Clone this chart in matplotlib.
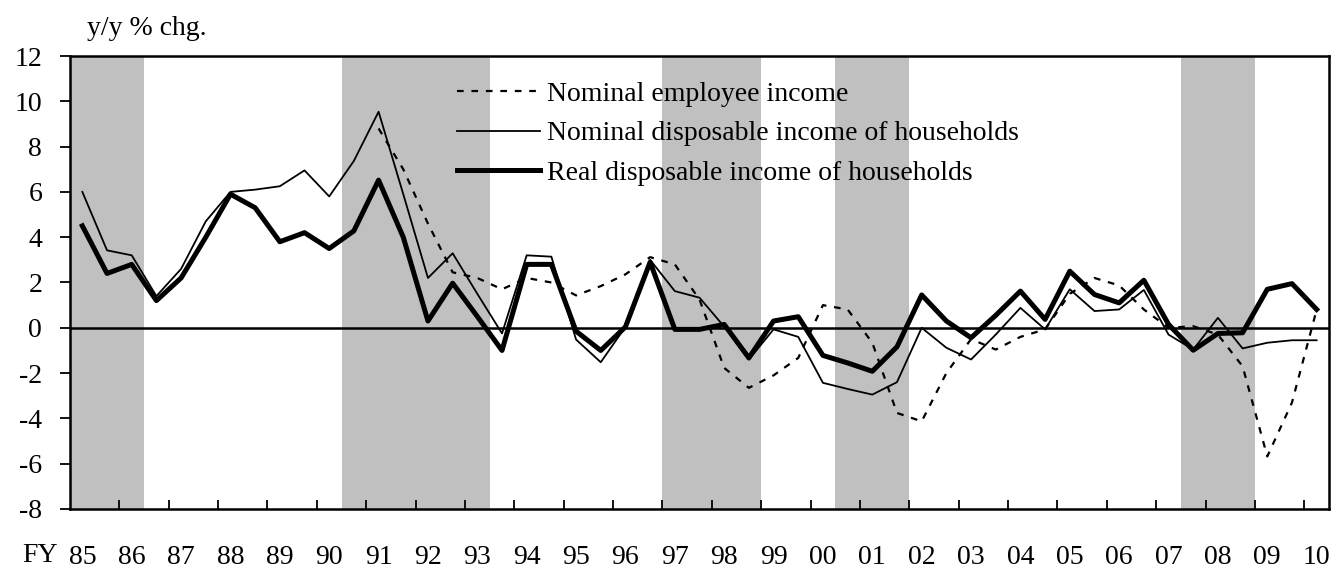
import numpy as np
import matplotlib
matplotlib.use("Agg")
import matplotlib.pyplot as plt

plt.rcParams['font.family'] = ['Liberation Serif', 'DejaVu Serif']

# half-year data, FY1985 H1 .. FY2010 H1 (y/y % chg.)
years = ['85', '86', '87', '88', '89', '90', '91', '92', '93', '94', '95', '96', '97',
         '98', '99', '00', '01', '02', '03', '04', '05', '06', '07', '08', '09', '10']

nan = np.nan
employee_income = [nan, nan, nan, nan, nan, nan, nan, nan, nan, nan, nan, nan,
                   8.8, 7.0, 4.6, 2.45, 2.2, 1.7, 2.2, 2.0, 1.43, 1.84, 2.36, 3.12,
                   2.8, 1.25, -1.77, -2.65, -2.1, -1.33, 1.0, 0.81, -0.66, -3.76,
                   -4.13, -2.0, -0.5, -0.96, -0.4, -0.07, 1.5, 2.2, 1.87, 0.81,
                   0.0, 0.07, -0.3, -1.7, -5.68, -3.3, 0.8]
nominal_disposable = [6.0, 3.42, 3.2, 1.4, 2.6, 4.7, 6.0, 6.1, 6.25, 6.95, 5.8, 7.37,
                      9.54, 5.9, 2.2, 3.29, 1.5, -0.25, 3.2, 3.14, -0.52, -1.52, 0.04, 3.0,
                      1.62, 1.33, 0.05, -1.4, -0.07, -0.4, -2.43, -2.7, -2.95, -2.4,
                      0.0, -0.88, -1.4, -0.3, 0.88, -0.07, 1.7, 0.74, 0.81, 1.67,
                      -0.3, -0.96, 0.44, -0.91, -0.66, -0.55, -0.55]
real_disposable = [4.5, 2.4, 2.8, 1.2, 2.2, 4.0, 5.9, 5.3, 3.8, 4.2, 3.5, 4.28,
                   6.52, 4.0, 0.3, 1.97, 0.5, -1.0, 2.8, 2.8, -0.15, -1.0, 0.04, 2.9,
                   -0.07, -0.07, 0.15, -1.33, 0.3, 0.49, -1.22, -1.55, -1.92, -0.84,
                   1.45, 0.3, -0.44, 0.55, 1.62, 0.37, 2.5, 1.47, 1.1, 2.1,
                   0.15, -0.99, -0.25, -0.22, 1.7, 1.95, 0.81]

# recession periods as (first, last) half-year index
recessions = [(0, 2), (11, 16), (24, 27), (31, 33), (45, 47)]

x = np.arange(len(real_disposable))

fig = plt.figure(figsize=(13.35, 5.68), dpi=100)
ax = fig.add_axes([70 / 1335, 1 - 509 / 568, 1259 / 1335, 453 / 568])

for a, b in recessions:
    ax.axvspan(a - 0.5, b + 0.5, color='#c0c0c0', lw=0, zorder=0)

ax.axhline(0, color='black', lw=1.8, zorder=1)

ax.plot(x, employee_income, color='black', lw=1.6, ls=(0, (3, 3.5)),
        label='Nominal employee income', zorder=3)
ax.plot(x, nominal_disposable, color='black', lw=1.3,
        label='Nominal disposable income of households', zorder=3)
ax.plot(x, real_disposable, color='black', lw=3.6,
        label='Real disposable income of households', zorder=4)

ax.set_xlim(-0.5, len(x) - 0.5)
ax.set_ylim(-8, 12)

# tick marks between years, labels on the first half of each year
ax.set_xticks(np.arange(1.5, len(x) - 1, 2))
ax.set_xticklabels([])
ax.tick_params(axis='x', which='major', direction='in', length=6.5, width=1.3)
ax.set_xticks(np.arange(0, len(x), 2), minor=True)
ax.set_xticklabels(years, minor=True, fontsize=20)
ax.tick_params(axis='x', which='minor', length=0, pad=26)

ax.set_yticks(np.arange(-8, 13, 2))
ax.set_yticklabels([str(v) for v in range(-8, 13, 2)], fontsize=20)
ax.tick_params(axis='y', direction='out', length=7, width=1.3, pad=13)

for s in ax.spines.values():
    s.set_linewidth(1.8)

fig.text(22 / 1335, 1 - 556 / 568, 'FY', fontsize=20, va='center', ha='left')
fig.text(87 / 1335, 1 - 35 / 568, 'y/y % chg.', fontsize=20, va='baseline', ha='left')

ax.legend(loc='upper left', bbox_to_anchor=(457 / 1335, 1 - 81.5 / 568),
          bbox_transform=fig.transFigure, frameon=False, fontsize=20,
          handlelength=3.0, handletextpad=0.25, labelspacing=0.5,
          borderpad=0, borderaxespad=0)

fig.savefig('out.png', dpi=100)
